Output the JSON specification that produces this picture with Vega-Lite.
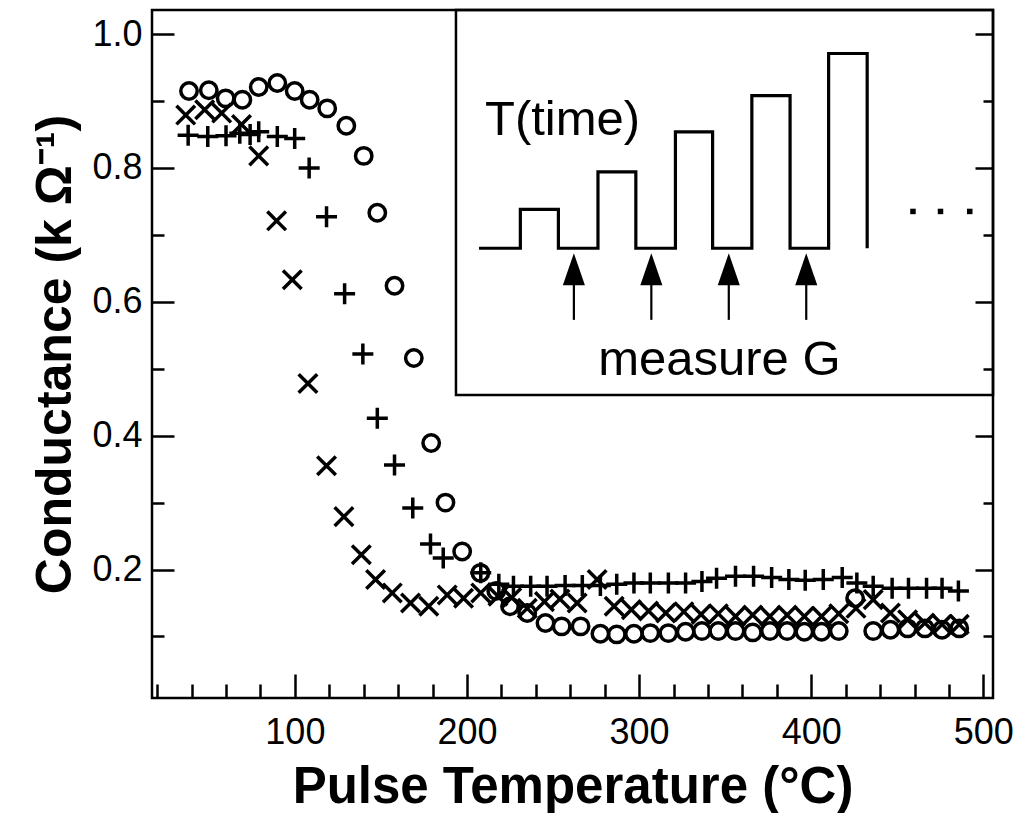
{
  "$schema": "https://vega.github.io/schema/vega-lite/v6.json",
  "width": 841,
  "height": 688,
  "autosize": {"type": "none"},
  "padding": {"left": 152, "top": 10, "right": 27, "bottom": 115},
  "background": "white",
  "config": {
    "view": {"stroke": "black", "strokeWidth": 2.5},
    "axis": {"labelFont": "Liberation Sans", "titleFont": "Liberation Sans", "labelColor": "black", "titleColor": "black", "tickColor": "black", "grid": false, "domain": false}
  },
  "datasets": {
    "box": [{"x": 193.6, "x2": 505.6, "y": 0.4607, "y2": 1.036}],
    "wave": [
      {"o": 1, "x": 207.0, "y": 0.680}, {"o": 2, "x": 231.0, "y": 0.680}, {"o": 3, "x": 231.0, "y": 0.738},
      {"o": 4, "x": 253.1, "y": 0.738}, {"o": 5, "x": 253.1, "y": 0.680}, {"o": 6, "x": 276.1, "y": 0.680},
      {"o": 7, "x": 276.1, "y": 0.794}, {"o": 8, "x": 298.1, "y": 0.794}, {"o": 9, "x": 298.1, "y": 0.680},
      {"o": 10, "x": 321.1, "y": 0.680}, {"o": 11, "x": 321.1, "y": 0.854}, {"o": 12, "x": 342.7, "y": 0.854},
      {"o": 13, "x": 342.7, "y": 0.680}, {"o": 14, "x": 365.5, "y": 0.680}, {"o": 15, "x": 365.5, "y": 0.908},
      {"o": 16, "x": 387.7, "y": 0.908}, {"o": 17, "x": 387.7, "y": 0.680}, {"o": 18, "x": 410.1, "y": 0.680},
      {"o": 19, "x": 410.1, "y": 0.971}, {"o": 20, "x": 432.5, "y": 0.971}, {"o": 21, "x": 432.5, "y": 0.680}
    ],
    "shafts": [
      {"x": 262.1, "y": 0.632, "y2": 0.573}, {"x": 307.1, "y": 0.632, "y2": 0.573},
      {"x": 352.1, "y": 0.632, "y2": 0.573}, {"x": 397.1, "y": 0.632, "y2": 0.573}
    ],
    "heads": [
      {"x": 262.1, "y": 0.6487}, {"x": 307.1, "y": 0.6487}, {"x": 352.1, "y": 0.6487}, {"x": 397.1, "y": 0.6487}
    ],
    "dots": [{"x": 459.1, "y": 0.735}, {"x": 475.1, "y": 0.735}, {"x": 492.1, "y": 0.735}],
    "labels": [{"x": 255.5, "y": 0.849, "t": "T(time)"}, {"x": 346.6, "y": 0.491, "t": "measure G"}],
    "pts": [
      {"s": "o", "x": 38.5, "y": 0.915}, {"s": "o", "x": 50, "y": 0.916}, {"s": "o", "x": 59.8, "y": 0.904},
      {"s": "o", "x": 69.5, "y": 0.902}, {"s": "o", "x": 79, "y": 0.921}, {"s": "o", "x": 89.8, "y": 0.927},
      {"s": "o", "x": 99.9, "y": 0.915}, {"s": "o", "x": 108.6, "y": 0.902}, {"s": "o", "x": 118.8, "y": 0.889},
      {"s": "o", "x": 129.9, "y": 0.863}, {"s": "o", "x": 140, "y": 0.818}, {"s": "o", "x": 147.9, "y": 0.733},
      {"s": "o", "x": 157.9, "y": 0.624}, {"s": "o", "x": 169.1, "y": 0.516}, {"s": "o", "x": 179.2, "y": 0.389},
      {"s": "o", "x": 187.5, "y": 0.3}, {"s": "o", "x": 197.2, "y": 0.227}, {"s": "o", "x": 207.8, "y": 0.195},
      {"s": "o", "x": 217, "y": 0.168}, {"s": "o", "x": 225, "y": 0.145}, {"s": "o", "x": 235, "y": 0.135},
      {"s": "o", "x": 245.6, "y": 0.12}, {"s": "o", "x": 255, "y": 0.115}, {"s": "o", "x": 266, "y": 0.115},
      {"s": "o", "x": 277.5, "y": 0.104}, {"s": "o", "x": 287, "y": 0.103}, {"s": "o", "x": 297, "y": 0.104},
      {"s": "o", "x": 306.5, "y": 0.105}, {"s": "o", "x": 317, "y": 0.105}, {"s": "o", "x": 327, "y": 0.107},
      {"s": "o", "x": 336.5, "y": 0.108}, {"s": "o", "x": 346, "y": 0.108}, {"s": "o", "x": 356, "y": 0.108},
      {"s": "o", "x": 366, "y": 0.106}, {"s": "o", "x": 376, "y": 0.108}, {"s": "o", "x": 386, "y": 0.108},
      {"s": "o", "x": 396, "y": 0.107}, {"s": "o", "x": 406, "y": 0.107}, {"s": "o", "x": 416, "y": 0.108},
      {"s": "o", "x": 425.5, "y": 0.157}, {"s": "o", "x": 436, "y": 0.108}, {"s": "o", "x": 446, "y": 0.11},
      {"s": "o", "x": 456, "y": 0.112}, {"s": "o", "x": 466, "y": 0.112}, {"s": "o", "x": 476, "y": 0.11},
      {"s": "o", "x": 486, "y": 0.112},
      {"s": "x", "x": 36.6, "y": 0.879}, {"s": "x", "x": 47.6, "y": 0.887}, {"s": "x", "x": 57.5, "y": 0.882},
      {"s": "x", "x": 69, "y": 0.865}, {"s": "x", "x": 79, "y": 0.818}, {"s": "x", "x": 89.4, "y": 0.721},
      {"s": "x", "x": 98.5, "y": 0.633}, {"s": "x", "x": 107.6, "y": 0.478}, {"s": "x", "x": 118.4, "y": 0.355},
      {"s": "x", "x": 128.5, "y": 0.279}, {"s": "x", "x": 138.6, "y": 0.222}, {"s": "x", "x": 146.9, "y": 0.185},
      {"s": "x", "x": 156.6, "y": 0.165}, {"s": "x", "x": 167.2, "y": 0.15}, {"s": "x", "x": 177.8, "y": 0.145},
      {"s": "x", "x": 188.5, "y": 0.162}, {"s": "x", "x": 198, "y": 0.157}, {"s": "x", "x": 208, "y": 0.165},
      {"s": "x", "x": 218, "y": 0.16}, {"s": "x", "x": 226, "y": 0.158}, {"s": "x", "x": 235, "y": 0.142},
      {"s": "x", "x": 245, "y": 0.152}, {"s": "x", "x": 254, "y": 0.156}, {"s": "x", "x": 264, "y": 0.15},
      {"s": "x", "x": 275.6, "y": 0.185}, {"s": "x", "x": 285.5, "y": 0.145}, {"s": "x", "x": 295.5, "y": 0.14},
      {"s": "x", "x": 305.5, "y": 0.138}, {"s": "x", "x": 315.5, "y": 0.135}, {"s": "x", "x": 326, "y": 0.137},
      {"s": "x", "x": 336, "y": 0.133}, {"s": "x", "x": 346, "y": 0.134}, {"s": "x", "x": 356, "y": 0.13},
      {"s": "x", "x": 366, "y": 0.132}, {"s": "x", "x": 376, "y": 0.13}, {"s": "x", "x": 386, "y": 0.132},
      {"s": "x", "x": 396, "y": 0.13}, {"s": "x", "x": 406, "y": 0.13}, {"s": "x", "x": 416, "y": 0.134},
      {"s": "x", "x": 426, "y": 0.142}, {"s": "x", "x": 436, "y": 0.155}, {"s": "x", "x": 446, "y": 0.135},
      {"s": "x", "x": 456, "y": 0.125}, {"s": "x", "x": 466, "y": 0.12}, {"s": "x", "x": 476, "y": 0.118},
      {"s": "x", "x": 486, "y": 0.118},
      {"s": "+", "x": 38, "y": 0.849}, {"s": "+", "x": 49.4, "y": 0.847}, {"s": "+", "x": 60, "y": 0.848},
      {"s": "+", "x": 68, "y": 0.852}, {"s": "+", "x": 74, "y": 0.85}, {"s": "+", "x": 79, "y": 0.854},
      {"s": "+", "x": 89.8, "y": 0.847}, {"s": "+", "x": 99.9, "y": 0.844}, {"s": "+", "x": 108.3, "y": 0.8},
      {"s": "+", "x": 118.4, "y": 0.727}, {"s": "+", "x": 128.9, "y": 0.612}, {"s": "+", "x": 139.5, "y": 0.522},
      {"s": "+", "x": 147.9, "y": 0.426}, {"s": "+", "x": 157.9, "y": 0.356}, {"s": "+", "x": 168.5, "y": 0.292},
      {"s": "+", "x": 178.8, "y": 0.238}, {"s": "+", "x": 186.2, "y": 0.217}, {"s": "+", "x": 208, "y": 0.195},
      {"s": "+", "x": 218.5, "y": 0.178}, {"s": "+", "x": 227, "y": 0.175}, {"s": "+", "x": 237, "y": 0.175},
      {"s": "+", "x": 246.5, "y": 0.175}, {"s": "+", "x": 257, "y": 0.176}, {"s": "+", "x": 267, "y": 0.176},
      {"s": "+", "x": 277.5, "y": 0.176}, {"s": "+", "x": 287, "y": 0.178}, {"s": "+", "x": 297, "y": 0.18},
      {"s": "+", "x": 306.5, "y": 0.18}, {"s": "+", "x": 317, "y": 0.18}, {"s": "+", "x": 327, "y": 0.18},
      {"s": "+", "x": 336.5, "y": 0.182}, {"s": "+", "x": 345, "y": 0.187}, {"s": "+", "x": 356, "y": 0.19},
      {"s": "+", "x": 366.5, "y": 0.19}, {"s": "+", "x": 377, "y": 0.188}, {"s": "+", "x": 387, "y": 0.185},
      {"s": "+", "x": 396.5, "y": 0.184}, {"s": "+", "x": 407, "y": 0.185}, {"s": "+", "x": 418, "y": 0.188},
      {"s": "+", "x": 426.5, "y": 0.18}, {"s": "+", "x": 436, "y": 0.175}, {"s": "+", "x": 447, "y": 0.172},
      {"s": "+", "x": 456.5, "y": 0.172}, {"s": "+", "x": 467, "y": 0.172}, {"s": "+", "x": 476, "y": 0.172},
      {"s": "+", "x": 485.5, "y": 0.168}
    ]
  },
  "encoding": {
    "x": {
      "field": "x", "type": "quantitative",
      "scale": {"domain": [17, 505.6], "nice": false, "zero": false},
      "axis": {
        "orient": "bottom",
        "values": [20, 40, 60, 80, 100, 120, 140, 160, 180, 200, 220, 240, 260, 280, 300, 320, 340, 360, 380, 400, 420, 440, 460, 480, 500],
        "labelExpr": "datum.value % 100 === 0 ? datum.label : ''",
        "labelOverlap": false,
        "labelFontSize": 36,
        "labelPadding": 41,
        "tickWidth": 2.5,
        "tickSize": {"condition": {"test": "datum.value % 100 === 0", "value": -24}, "value": -14},
        "title": "Pulse Temperature (°C)",
        "titleFontSize": 51,
        "titleFontWeight": "bold",
        "titlePadding": 2
      }
    },
    "y": {
      "field": "y", "type": "quantitative",
      "scale": {"domain": [0.008, 1.036], "nice": false, "zero": false},
      "axis": {
        "orient": "left",
        "values": [0.1, 0.2, 0.3, 0.4, 0.5, 0.6, 0.7, 0.8, 0.9, 1.0],
        "labelExpr": "round(datum.value * 10) % 2 === 0 ? format(datum.value, '.1f') : ''",
        "labelOverlap": false,
        "labelFontSize": 36,
        "labelPadding": 32,
        "tickWidth": 2.5,
        "tickSize": {"condition": {"test": "round(datum.value * 10) % 2 === 0", "value": -22}, "value": -12},
        "title": "Conductance (k Ω⁻¹)",
        "titleFontSize": 50,
        "titleFontWeight": "bold",
        "titlePadding": 11
      }
    }
  },
  "layer": [
    {
      "layer": [
        {
          "data": {"name": "box"},
          "mark": {"type": "rect", "filled": false, "stroke": "black", "strokeWidth": 2.5},
          "encoding": {"x2": {"field": "x2"}, "y2": {"field": "y2"}}
        },
        {
          "data": {"name": "wave"},
          "mark": {"type": "line", "color": "black", "strokeWidth": 3.2, "strokeJoin": "miter"},
          "encoding": {"order": {"field": "o", "type": "quantitative"}}
        },
        {
          "data": {"name": "shafts"},
          "mark": {"type": "rule", "color": "black", "strokeWidth": 2.2},
          "encoding": {"y2": {"field": "y2"}}
        },
        {
          "data": {"name": "heads"},
          "mark": {"type": "point", "shape": "M0,-1L0.69,1L-0.69,1Z", "size": 1024, "filled": true, "color": "black", "opacity": 1}
        },
        {
          "data": {"name": "dots"},
          "mark": {"type": "square", "size": 30, "color": "black", "opacity": 1}
        },
        {
          "data": {"name": "labels"},
          "mark": {"type": "text", "font": "Liberation Sans", "fontSize": 49, "align": "center", "baseline": "alphabetic", "color": "black"},
          "encoding": {"text": {"field": "t", "type": "nominal"}}
        },
        {
          "data": {"name": "pts"},
          "mark": {"type": "point", "filled": false, "color": "black", "strokeWidth": 3.5, "size": 400, "opacity": 1},
          "encoding": {
            "shape": {
              "field": "s", "type": "nominal",
              "scale": {
                "domain": ["o", "x", "+"],
                "range": ["M0.82,0A0.82,0.82 0 1,1 -0.82,0A0.82,0.82 0 1,1 0.82,0Z", "M-0.93,-0.93L0.93,0.93M-0.93,0.93L0.93,-0.93", "M-1.05,0L1.05,0M0,-1.05L0,1.05"]
              },
              "legend": null
            }
          }
        }
      ]
    },
    {
      "data": {"name": "box"},
      "mark": {"type": "point", "opacity": 0},
      "encoding": {
        "y": {
          "field": "y", "type": "quantitative",
          "scale": {"domain": [0.008, 1.036], "nice": false, "zero": false},
          "axis": {
            "orient": "right",
            "values": [0.1, 0.2, 0.3, 0.4, 0.5, 0.6, 0.7, 0.8, 0.9, 1.0],
            "labels": false,
            "title": null,
            "tickWidth": 2.5,
            "tickSize": {"condition": {"test": "round(datum.value * 10) % 2 === 0", "value": -18}, "value": -10}
          }
        }
      }
    }
  ],
  "resolve": {"axis": {"y": "independent"}}
}
